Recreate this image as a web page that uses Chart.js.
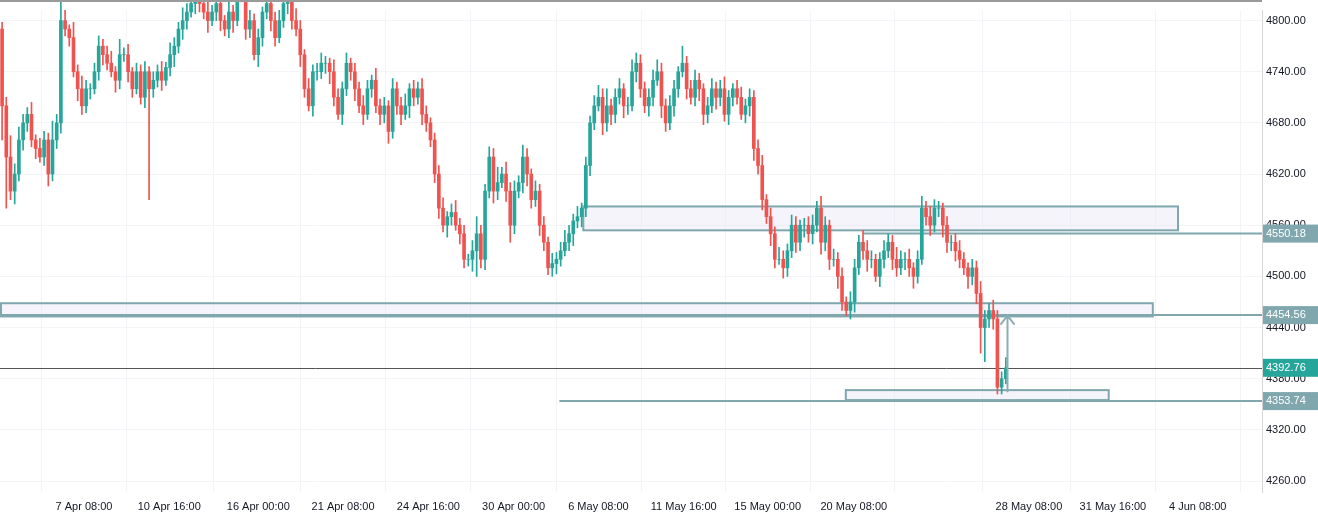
<!DOCTYPE html>
<html><head><meta charset="utf-8">
<script src="https://cdn.jsdelivr.net/npm/chart.js@4/dist/chart.umd.min.js"></script>
<style>html,body{margin:0;padding:0;background:#fff}#w{width:1318px;height:521px}</style>
</head><body><div id="w"><canvas id="c"></canvas></div>
<script>
const firstOpen = 4790;
const closes = [
4700,4640,4600,4620,4660,4680,4690,4660,4650,4640,4660,4620,4660,4680,
4800,
4790,4780,4740,4720,4700,4720,4720,4740,
4770,4760,4750,4740,4730,4760,4760,4740,4720,4740,4710,4740,
4720,
4730,4740,4730,4745,4760,4770,4790,4800,4810,4820,
4830,4820,4810,4800,4810,4820,4800,4790,4810,4800,4830,4840,
4790,4800,4760,4780,4810,4820,4800,4780,4800,4820,4830,4800,4790,4760,4720,4700,4740,
4740,4750,4750,4740,4710,4690,4720,4750,4740,4720,4700,4690,4720,4730,4700,4690,4700,4670,
4720,4700,4690,4700,4720,4710,4720,4690,4680,4660,
4620,4580,4560,4570,4575,4560,4550,4520,4520,4530,
4550,4520,4600,4640,4600,4610,4620,4600,
4560,4600,4610,4640,4620,4590,4600,4560,4540,4510,
4515,4520,4530,4540,4550,4565,4570,4580,
4630,4680,4700,4710,4680,4700,
4690,4710,4720,4700,4700,4740,4750,4720,4700,4710,4730,4740,
4700,4680,4700,4720,4740,4750,4720,4710,4730,4720,
4690,4700,4720,4710,4720,4690,4710,4720,4710,4690,4700,4710,
4650,4630,4590,4570,4550,4520,4520,4510,4530,4560,4540,4560,4560,
4550,4560,4580,4540,4560,4520,4520,4500,4470,4460,4470,
4510,4540,4530,4520,4520,4500,4520,4530,4540,4520,4510,
4520,4520,4510,4500,4520,4580,4570,4560,4580,4580,4560,4540,4540,
4530,4520,4510,4500,4510,4480,4440,4450,4460,4450,4370,4380,4392.76
];
const wickUp = [
8,10,25,12,15,10,8,14,6,12,10,8,22,10,
30,12,5,18,8,15,10,6,10,
12,8,10,14,6,18,8,12,5,10,8,12,
6,
10,8,12,6,14,10,8,15,10,12,
8,10,6,12,8,10,14,6,12,8,10,6,
10,12,8,10,6,15,8,10,12,6,10,8,14,10,6,12,8,
10,12,8,6,14,10,8,12,6,10,8,12,10,6,14,8,10,6,
12,8,10,14,6,10,8,12,10,6,
8,10,12,6,10,14,8,10,6,12,
20,10,8,12,10,18,8,14,
10,12,8,14,10,6,12,8,10,6,
12,8,10,14,10,8,12,6,
10,8,12,14,10,20,
8,10,12,6,10,14,12,10,8,10,12,14,
10,8,12,10,6,20,8,10,12,8,
6,10,12,8,10,14,8,6,10,12,8,10,
8,10,12,6,10,8,14,10,8,12,10,6,8,
10,12,8,14,10,6,12,8,10,6,12,
10,8,14,12,10,6,8,12,10,8,14,
10,8,12,6,10,14,8,12,10,8,6,10,8,
10,12,8,6,10,8,14,10,8,12,10,8,12
];
const wickDown = [
40,60,10,15,8,12,10,8,12,6,10,14,8,10,
12,8,10,6,14,10,8,12,6,
10,12,8,6,14,10,8,12,10,6,8,12,
130,
10,8,12,6,10,14,8,12,10,6,
12,10,8,14,6,10,12,8,10,14,6,8,
12,10,6,14,10,8,12,10,6,8,12,10,8,14,10,6,12,
10,8,12,14,10,6,12,8,10,14,8,12,6,10,8,12,10,14,
8,10,12,6,14,10,8,12,10,8,
10,12,8,14,10,6,12,10,8,14,
30,10,12,8,14,10,6,12,
20,10,8,12,14,10,8,12,10,8,
10,12,8,6,10,14,8,12,
10,12,8,6,14,10,
12,10,8,14,10,6,12,10,8,12,10,6,
14,10,8,12,10,6,12,8,10,14,
12,10,8,14,10,8,12,10,8,6,10,12,
14,10,12,8,14,10,6,12,10,8,12,10,14,
10,12,8,14,10,12,8,14,10,6,10,
12,8,10,14,10,6,12,10,8,12,10,
8,12,10,14,8,6,10,12,8,10,14,12,10,
12,10,8,14,10,12,30,40,10,12,8,8,6
];
const tickIdx = [19.5,39.8,61,81.2,101.5,121.8,142,162.3,182.3,202.8,222.3,244.5,264.5,284.7];
const tickText = ['7 Apr 08:00','10 Apr 16:00','16 Apr 00:00','21 Apr 08:00','24 Apr 16:00','30 Apr 00:00','6 May 08:00','11 May 16:00','15 May 00:00','20 May 08:00','','28 May 08:00','31 May 16:00','4 Jun 08:00'];
const priceTicks = [4260,4320,4380,4440,4500,4560,4620,4680,4740,4800];
const zones = [ // [x0,x1,priceTop,priceBottom]
  [138.4,280,4582,4554],
  [-1,274,4468.5,4453],
  [200.9,263.5,4366.6,4354.9]
];
const levels = [ // [startIdx, price, label colour]
  [205,4550.18,'#7fa7ad'],
  [-1,4454.56,'#7fa7ad'],
  [132.7,4353.74,'#7fa7ad']
];
const lastPrice = 4392.76;
const arrow = [239.4, 4364, 4454];

const GREEN='#26a69a', RED='#ef5350';
const opens = [firstOpen, ...closes.slice(0,-1)];
const bodies = closes.map((c,i)=>({x:i,y:[opens[i],c]}));
const wicks = closes.map((c,i)=>({x:i,y:[Math.min(opens[i],c)-wickDown[i],Math.max(opens[i],c)+wickUp[i]]}));
const cols = closes.map((c,i)=>c>=opens[i]?GREEN:RED);
const CLIP={left:0,top:12,right:0,bottom:0};

const overlay = {
  id:'overlay',
  beforeDatasetsDraw(ch){
    const {ctx,scales:{x,y},chartArea:a}=ch;
    ctx.save();
    ctx.beginPath();ctx.rect(a.left,a.top,a.right-a.left,a.bottom-a.top);ctx.clip();
    ctx.strokeStyle='#7fa7ad';ctx.lineWidth=2;
    zones.forEach(z=>{
      const x0=Math.max(x.getPixelForValue(z[0]),a.left+1),x1=x.getPixelForValue(z[1]);
      const y0=y.getPixelForValue(z[2]),y1=y.getPixelForValue(z[3]);
      ctx.fillStyle='rgba(233,230,246,0.45)';ctx.fillRect(x0,y0,x1-x0,y1-y0);
      ctx.strokeRect(x0,y0,x1-x0,y1-y0);
    });
    levels.forEach(l=>{
      const yy=y.getPixelForValue(l[1]);
      ctx.beginPath();ctx.moveTo(Math.max(x.getPixelForValue(l[0]),a.left),yy);ctx.lineTo(a.right,yy);ctx.stroke();
    });
    const ly=Math.round(y.getPixelForValue(lastPrice))+0.5;
    ctx.strokeStyle='#555';ctx.lineWidth=1;ctx.beginPath();ctx.moveTo(a.left,ly);ctx.lineTo(a.right,ly);ctx.stroke();
    ctx.restore();
  },
  afterDatasetsDraw(ch){
    const {ctx,scales:{x,y}}=ch;
    const ax=x.getPixelForValue(arrow[0]),ay0=y.getPixelForValue(arrow[1]),ay1=y.getPixelForValue(arrow[2]);
    ctx.save();ctx.strokeStyle='#8aaeb3';ctx.lineWidth=2;
    ctx.beginPath();ctx.moveTo(ax,ay0);ctx.lineTo(ax,ay1);ctx.moveTo(ax-7,ay1+9);ctx.lineTo(ax,ay1);ctx.lineTo(ax+7,ay1+9);ctx.stroke();
    ctx.restore();
  },
  afterDraw(ch){
    const {ctx,scales:{y},chartArea:a}=ch;
    ctx.save();ctx.font='11px "Liberation Sans", Arial';ctx.textBaseline='middle';
    const lab=(p,c)=>{const yy=y.getPixelForValue(p);ctx.fillStyle=c;ctx.fillRect(a.right+1,yy-9,56,18);ctx.fillStyle='#fff';ctx.fillText(p.toFixed(2),a.right+4,yy);};
    levels.forEach(l=>lab(l[1],l[2]));
    lab(lastPrice,GREEN);
    ctx.strokeStyle='#9a9a9a';ctx.lineWidth=2;ctx.beginPath();ctx.moveTo(0,1);ctx.lineTo(a.right,1);ctx.stroke();
    ctx.restore();
  }
};

new Chart(document.getElementById('c'),{
  type:'bar',
  data:{datasets:[
    {data:wicks,backgroundColor:cols,barThickness:1,grouped:false,order:2,clip:CLIP},
    {data:bodies,backgroundColor:cols,barThickness:3,grouped:false,order:1,clip:CLIP}
  ]},
  options:{
    responsive:true,maintainAspectRatio:false,animation:false,
    layout:{padding:{top:0,left:0,right:0,bottom:0}},
    plugins:{legend:{display:false},tooltip:{enabled:false}},
    scales:{
      x:{type:'linear',min:-0.5,max:300,offset:false,
        grid:{color:'#f3f4f8',drawTicks:false},border:{display:false},
        afterBuildTicks(s){s.ticks=tickIdx.map(v=>({value:v}));},
        afterFit(s){s.height=29;},
        ticks:{autoSkip:false,maxRotation:0,padding:8,color:'#131722',font:{size:11,family:'"Liberation Sans", Arial'},
          callback(v,i){return tickText[i];}}},
      y:{position:'right',min:4247.1,max:4811.7,
        grid:{color:'#f3f4f8',drawTicks:false},border:{color:'#d6d6d6'},
        afterBuildTicks(s){s.ticks=priceTicks.map(v=>({value:v}));},
        afterFit(s){s.width=56;},
        ticks:{padding:4,color:'#131722',font:{size:11,family:'"Liberation Sans", Arial'},callback:v=>Number(v).toFixed(2)}}
    }
  },
  plugins:[overlay]
});
</script></body></html>
